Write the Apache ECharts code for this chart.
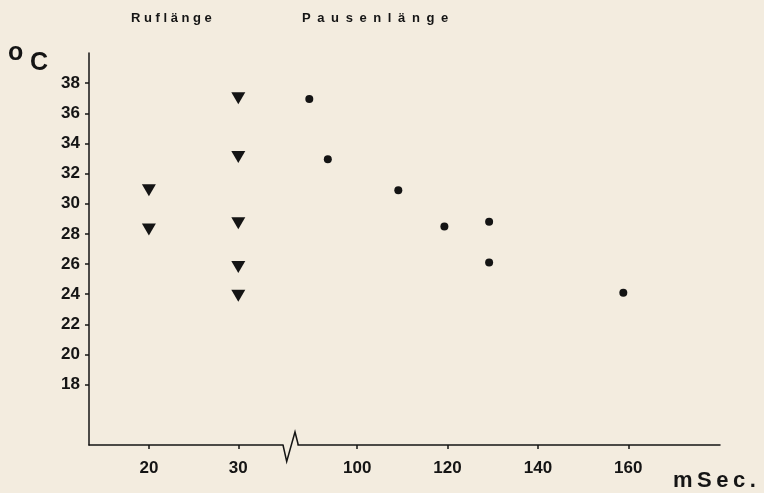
<!DOCTYPE html>
<html>
<head>
<meta charset="utf-8">
<script src="https://cdn.jsdelivr.net/npm/echarts@6/dist/echarts.min.js"></script>
<style>
  html, body { margin: 0; padding: 0; background: #f3ecdf; }
  #wrap { position: relative; width: 764px; height: 493px; }
  #chart { position: absolute; left: 0; top: 0; width: 764px; height: 493px; }
  .lbl { position: absolute; font-family: 'Liberation Sans', Arial, sans-serif; font-weight: bold; color: #151515; white-space: nowrap; }
</style>
</head>
<body>
<div id="wrap">
  <div id="chart"></div>
  <div class="lbl" id="t1" style="left:131px; top:11px; font-size:13px; line-height:13px; letter-spacing:3.6px;">Ruflänge</div>
  <div class="lbl" id="t2" style="left:302px; top:11px; font-size:13px; line-height:13px; letter-spacing:6.6px;">Pausenlänge</div>
  <div class="lbl" id="t3" style="left:673px; top:469px; font-size:22px; line-height:22px; letter-spacing:4.5px;">mSec.</div>
</div>
<script>
// ---- data ----
const rufX = [20, 20, 30, 30, 30, 30, 30];
const rufY = [30.9, 28.3, 37.0, 33.1, 28.7, 25.8, 23.9];
const pauseX = [89.4, 93.5, 109.1, 119.3, 129.2, 129.2, 158.9];
const pauseY = [36.95, 32.95, 30.9, 28.5, 28.8, 26.1, 24.1];
const yTicks = [18, 20, 22, 24, 26, 28, 30, 32, 34, 36, 38];
const xTicksLeft = [20, 30];
const xTicksRight = [100, 120, 140, 160];
// ---------------

const ink = '#141414';
const tri = 'path://M0,0 L14,0 L7,12 Z';

const chart = echarts.init(document.getElementById('chart'));
const labelFont = { color: ink, fontSize: 17, fontWeight: 'bold', fontFamily: 'Liberation Sans, Arial, sans-serif' };

const option = {
  animation: false,
  backgroundColor: '#f3ecdf',
  grid: [
    { left: 89, top: 53, width: 194, height: 392 },
    { left: 298, top: 53, width: 422, height: 392 }
  ],
  xAxis: [
    {
      gridIndex: 0, type: 'value', min: 13.3, max: 35,
      splitLine: { show: false },
      axisLine: { show: true, lineStyle: { color: ink, width: 1.5 } },
      axisTick: { show: true, customValues: xTicksLeft, length: 4, lineStyle: { color: ink, width: 1.5 } },
      axisLabel: Object.assign({ customValues: xTicksLeft, margin: 15 }, labelFont)
    },
    {
      gridIndex: 1, type: 'value', min: 86.9, max: 180.3,
      splitLine: { show: false },
      axisLine: { show: true, lineStyle: { color: ink, width: 1.5 } },
      axisTick: { show: true, customValues: xTicksRight, length: 4, lineStyle: { color: ink, width: 1.5 } },
      axisLabel: Object.assign({ customValues: xTicksRight, margin: 15 }, labelFont)
    }
  ],
  yAxis: [
    {
      gridIndex: 0, type: 'value', min: 14, max: 40,
      splitLine: { show: false },
      axisLine: { show: true, lineStyle: { color: ink, width: 1.5 } },
      axisTick: { show: true, customValues: yTicks, length: 4, lineStyle: { color: ink, width: 1.5 } },
      axisLabel: Object.assign({ customValues: yTicks, margin: 9 }, labelFont)
    },
    {
      gridIndex: 1, type: 'value', min: 14, max: 40, show: false,
      splitLine: { show: false }
    }
  ],
  series: [
    {
      name: 'Ruflänge', type: 'scatter', xAxisIndex: 0, yAxisIndex: 0,
      symbol: tri, symbolSize: [14, 12],
      itemStyle: { color: ink, opacity: 1 },
      data: rufX.map((x, i) => [x, rufY[i]])
    },
    {
      name: 'Pausenlänge', type: 'scatter', xAxisIndex: 1, yAxisIndex: 1,
      symbol: 'circle', symbolSize: 8,
      itemStyle: { color: ink, opacity: 1 },
      data: pauseX.map((x, i) => [x, pauseY[i]])
    }
  ],
  graphic: [
    {
      type: 'polyline',
      shape: { points: [[283, 445], [286.7, 461.5], [295, 432], [298.3, 445]] },
      style: { stroke: ink, lineWidth: 1.5, fill: null }
    },
    {
      type: 'text', left: 8, top: 41,
      style: { text: 'o', font: 'bold 25px "Liberation Sans", Arial, sans-serif', fill: ink }
    },
    {
      type: 'text', left: 30, top: 51,
      style: { text: 'C', font: 'bold 25px "Liberation Sans", Arial, sans-serif', fill: ink }
    }
  ]
};
chart.setOption(option);
</script>
</body>
</html>
